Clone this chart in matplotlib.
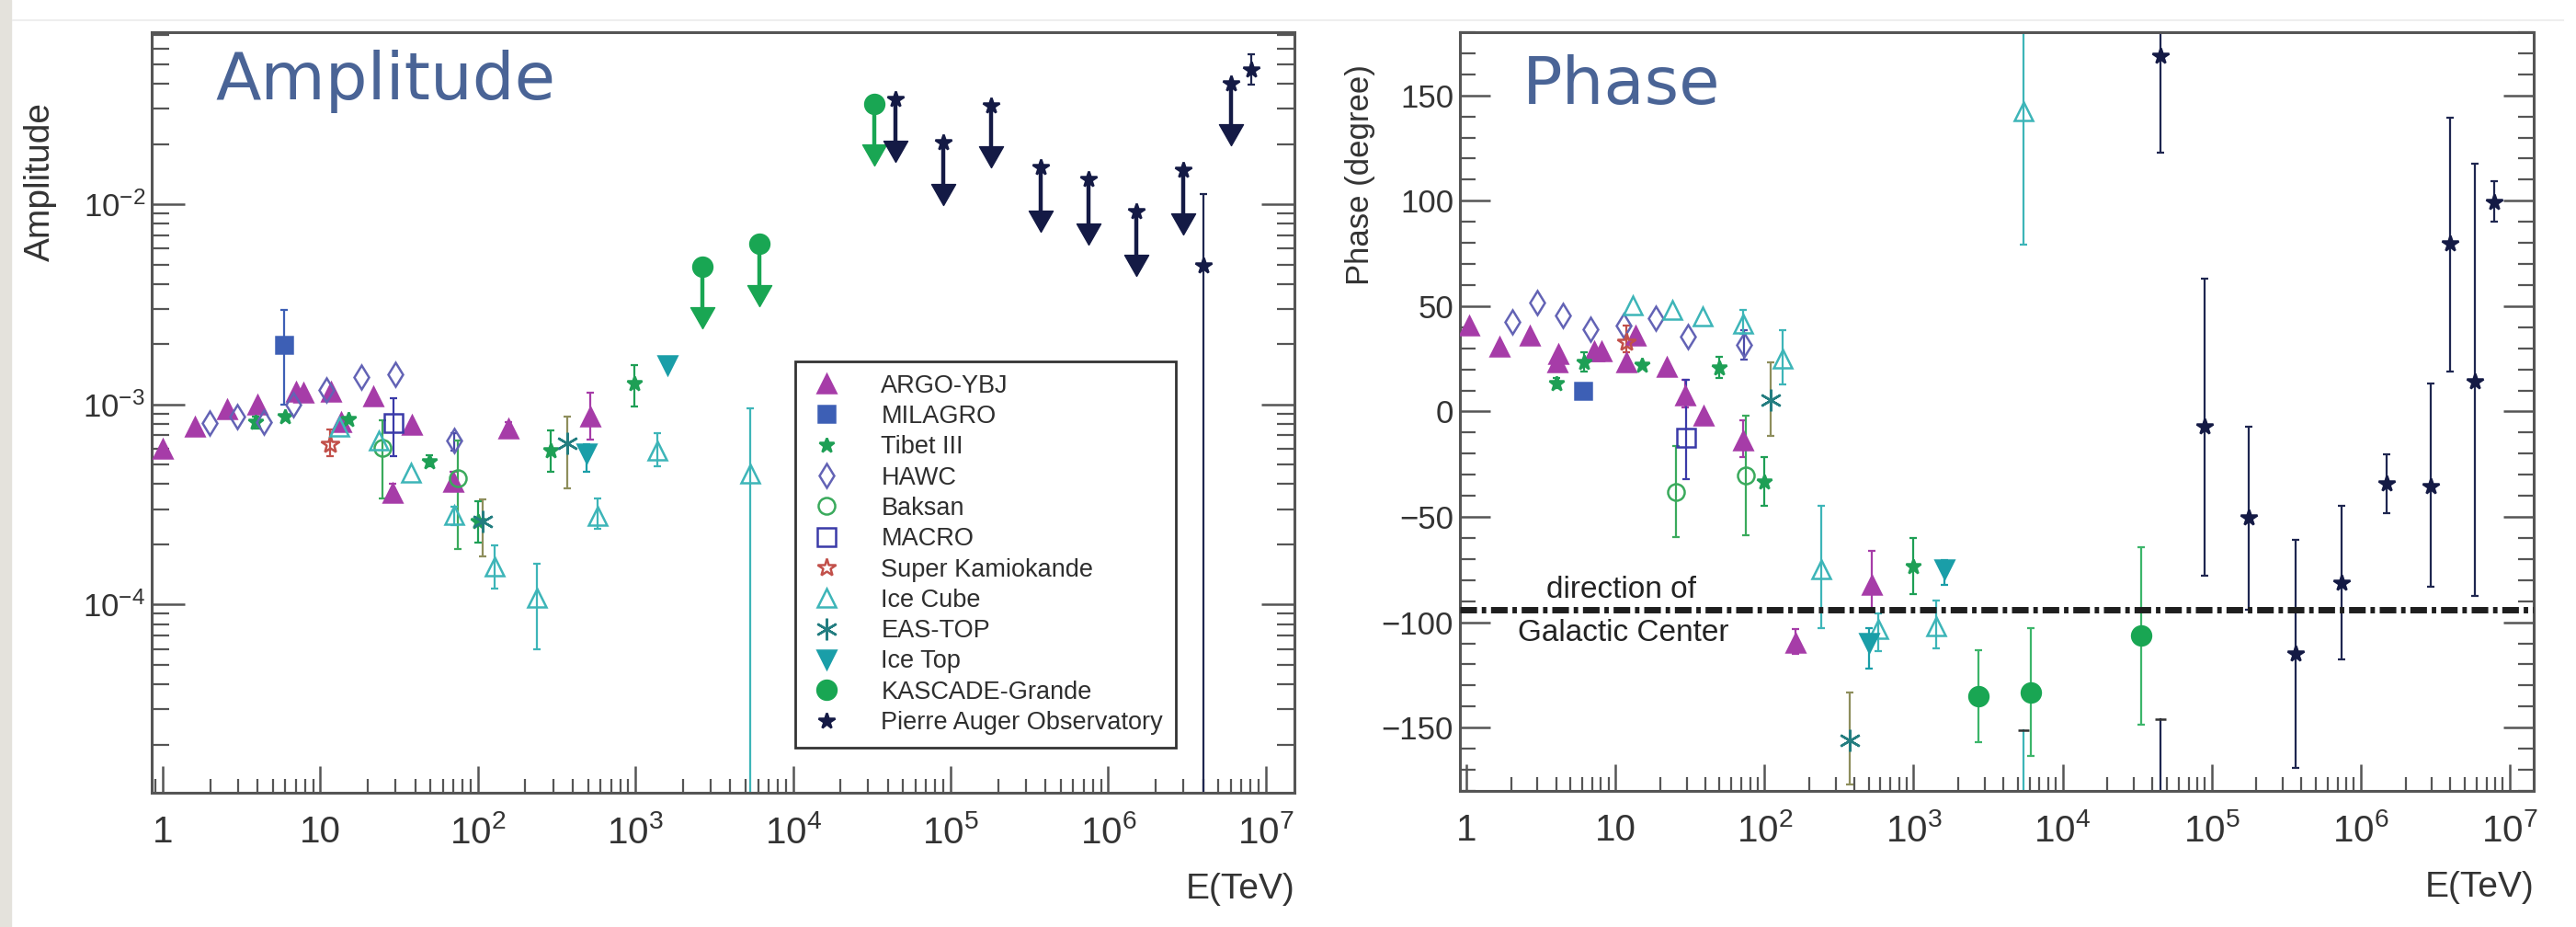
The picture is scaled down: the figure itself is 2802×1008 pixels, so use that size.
import matplotlib
matplotlib.use("Agg")
import matplotlib.pyplot as plt
from matplotlib.lines import Line2D
from matplotlib.path import Path
from matplotlib.patches import Rectangle
from matplotlib.ticker import LogLocator, MultipleLocator, NullFormatter

plt.rcParams["font.family"] = ["Liberation Sans", "DejaVu Sans"]
ETROIT = ["Liberation Sans Narrow", "Liberation Sans", "DejaVu Sans"]

# ---------------------------------------------------------------- axes
E_TICKS = [1, 10, 1e2, 1e3, 1e4, 1e5, 1e6, 1e7]
E_LABELS = ["1", "10"] + [r"$\mathdefault{10^{%d}}$" % k for k in range(2, 8)]
AMP_TICKS = [1e-4, 1e-3, 1e-2]
AMP_LABELS = [r"$\mathdefault{10^{-4}}$", r"$\mathdefault{10^{-3}}$", r"$\mathdefault{10^{-2}}$"]
PHASE_TICKS = [-150, -100, -50, 0, 50, 100, 150]
PHASE_LABELS = ["\u2212150", "\u2212100", "\u221250", "0", "50", "100", "150"]
GALACTIC_CENTER = -94

# ---------------------------------------------------------------- amplitude (E, A, bas, haut)
ARGO_AMP = [(1.0, 6.0e-4, None, None), (1.6, 7.7e-4, None, None), (2.55, 9.5e-4, None, None),
            (4.0, 1.0e-3, None, None), (7.0, 1.16e-3, None, None), (7.8, 1.14e-3, None, None),
            (11.7, 1.16e-3, None, None), (13.5, 8.2e-4, None, None), (21.6, 1.10e-3, None, None),
            (28.7, 3.6e-4, 3.3e-4, 4.0e-4), (38, 7.9e-4, None, None), (70, 4.1e-4, 3.7e-4, 4.6e-4),
            (157, 7.6e-4, 7.2e-4, 8.2e-4), (514, 8.7e-4, 6.7e-4, 1.14e-3)]
MILAGRO_AMP = [(5.9, 1.99e-3, 1.0e-3, 2.96e-3)]
TIBET_AMP = [(3.9, 8.15e-4, 7.6e-4, 8.7e-4), (6.0, 8.7e-4, None, None), (15, 8.4e-4, None, None),
             (49, 5.2e-4, 4.9e-4, 5.6e-4), (100, 2.6e-4, 2.05e-4, 3.3e-4),
             (291, 5.9e-4, 4.6e-4, 7.4e-4), (984, 1.27e-3, 9.8e-4, 1.58e-3)]
HAWC_AMP = [(1.98, 8.1e-4, None, None), (2.96, 8.7e-4, None, None), (4.36, 8.15e-4, None, None),
            (6.7, 1.0e-3, None, None), (10.9, 1.18e-3, None, None), (18.3, 1.37e-3, None, None),
            (30.1, 1.42e-3, None, None), (71, 6.6e-4, 5.9e-4, 7.2e-4)]
BAKSAN_AMP = [(24.7, 6.1e-4, 3.4e-4, 8.3e-4), (75, 4.3e-4, 1.9e-4, 6.6e-4)]
MACRO_AMP = [(29.3, 8.1e-4, 5.5e-4, 1.07e-3)]
SK_AMP = [(11.6, 6.3e-4, 5.5e-4, 7.5e-4)]
ICECUBE_AMP = [(13.1, 7.7e-4, None, None), (23.4, 6.6e-4, None, None), (37.4, 4.55e-4, None, None),
               (71, 2.8e-4, 2.5e-4, 3.1e-4), (128, 1.55e-4, 1.2e-4, 1.97e-4),
               (236, 1.08e-4, 6.0e-5, 1.6e-4), (575, 2.77e-4, 2.4e-4, 3.4e-4),
               (1376, 5.9e-4, 4.9e-4, 7.2e-4), (5346, 4.5e-4, 1e-6, 9.6e-4)]
EASTOP_AMP = [(107, 2.6e-4, 1.75e-4, 3.34e-4), (367, 6.4e-4, 3.8e-4, 8.7e-4)]
ICETOP_AMP = [(491, 5.7e-4, 4.6e-4, 6.3e-4), (1596, 1.58e-3, None, None)]
KASCADE_AMP = []
AUGER_AMP = [(4.0e6, 4.95e-3, 1e-6, 1.12e-2), (8.1e6, 4.7e-2, 3.94e-2, 5.6e-2)]
# limites superieures (E, valeur, pointe de la fleche)
KASCADE_LIM = [(2660, 4.9e-3, 2.4e-3), (6095, 6.35e-3, 3.1e-3), (32900, 3.17e-2, 1.56e-2)]
AUGER_LIM = [(44800, 3.34e-2, 1.62e-2), (90200, 2.04e-2, 9.9e-3), (1.81e5, 3.11e-2, 1.53e-2),
             (3.72e5, 1.53e-2, 7.3e-3), (7.5e5, 1.33e-2, 6.3e-3), (1.5e6, 9.2e-3, 4.4e-3),
             (3.0e6, 1.48e-2, 7.05e-3), (6.0e6, 3.98e-2, 1.96e-2)]

# ---------------------------------------------------------------- phase (E, phase, bas, haut)
ARGO_PHASE = [(1.04, 41.0, None, None), (1.67, 30.8, None, None), (2.68, 35.9, None, None),
              (4.16, 27.1, None, None), (4.1, 23.5, None, None), (7.2, 28.6, None, None),
              (8.1, 28.6, None, None), (11.9, 23.5, None, None), (13.6, 35.9, None, None),
              (22, 21.3, None, None), (29.5, 7.5, 1.8, 15), (39.2, -2.0, None, None),
              (72, -13.7, -21.7, -4.2), (162, -109.9, -115, -103), (523, -82.2, -95, -66.1)]
MILAGRO_PHASE = [(6.07, 10.0, 7, 13)]
TIBET_PHASE = [(4.04, 13.3, 11, 16), (6.2, 23.5, 19, 28), (15, 22.0, None, None),
               (49.7, 20.6, 16, 26), (99, -33.3, -44.7, -21.7), (1000, -73.4, -86.6, -59.9)]
HAWC_PHASE = [(2.04, 42.7, None, None), (3.0, 51.9, None, None), (4.46, 45.4, None, None),
              (6.8, 39.1, None, None), (11.4, 41.0, None, None), (18.7, 44.2, None, None),
              (30.7, 35.4, None, None), (73, 31.5, 24.6, 38.8)]
BAKSAN_PHASE = [(25.4, -38.0, -59.6, -16.2), (75.4, -30.2, -58.9, -2.0)]
MACRO_PHASE = [(29.9, -12.5, -31.9, 15)]
SK_PHASE = [(11.8, 33.0, 28, 41)]
ICECUBE_PHASE = [(13.1, 50.4, None, None), (24.2, 48.0, None, None), (38.5, 45.0, None, None),
                 (72, 41.7, 37, 48), (133, 25.0, 13, 38.5), (240, -74.9, -102.6, -44.7),
                 (583, -103.3, -113.5, -96), (1416, -101.9, -112.4, -89.7),
                 (5446, 142.3, 79.3, 209)]
EASTOP_PHASE = [(110, 5.3, -11.5, 23.5), (374, -155.8, -176.9, -133.5)]
ICETOP_PHASE = [(500, -109.9, -122, -102.6), (1610, -74.9, -82.2, -70.5)]
KASCADE_PHASE = [(2723, -135.1, -157, -113.1), (6125, -133.2, -163.5, -102.6),
                 (33550, -106.4, -148.6, -64.5)]
AUGER_PHASE = [(45600, 168.5, 123, 214), (89500, -7.1, -78.0, 63.1), (1.78e5, -50.5, -93.9, -7.1),
               (3.65e5, -115.2, -169, -60.8), (7.5e5, -81.4, -117.5, -44.6),
               (1.49e6, -34.3, -48.3, -20.3), (2.96e6, -35.4, -83.3, 13.3),
               (3.97e6, 79.6, 18.8, 139.4), (5.87e6, 14.3, -87.5, 117.5), (7.9e6, 99.3, 90.2, 109.2)]

# ---------------------------------------------------------------- styles
LEGENDE = ["ARGO-YBJ", "MILAGRO", "Tibet III", "HAWC", "Baksan", "MACRO", "Super Kamiokande",
           "Ice Cube", "EAS-TOP", "Ice Top", "KASCADE-Grande", "Pierre Auger Observatory"]
COULEURS = ["#a63ca8", "#3d5fb5", "#1e9f55", "#6363b5", "#3aaa5c", "#3a3aa8", "#c2504a",
            "#3db5b8", "#237d80", "#1a9ea8", "#19a653", "#141a45"]
COULEURS_ERREUR = ["#a63ca8", "#3d5fb5", "#1e9f55", "#4a4aa8", "#3aaa5c", "#3a3aa8", "#c2504a",
                   "#3db5b8", "#8e8e5c", "#1a9ea8", "#3cb56a", "#1e2650"]
MARQUEURS = ["^", "s", "*", "d", "o", "s", "*", "^", (6, 2, 0), "v", "o", "*"]
TAILLES = [15, 13, 12, 13, 13, 14, 15, 15, 17, 14, 15, 13]
PLEINS = [True, True, True, False, False, False, False, False, True, True, True, True]

SERIES_AMP = [ARGO_AMP, MILAGRO_AMP, TIBET_AMP, HAWC_AMP, BAKSAN_AMP, MACRO_AMP, SK_AMP,
              ICECUBE_AMP, EASTOP_AMP, ICETOP_AMP, KASCADE_AMP, AUGER_AMP]
SERIES_PHASE = [ARGO_PHASE, MILAGRO_PHASE, TIBET_PHASE, HAWC_PHASE, BAKSAN_PHASE, MACRO_PHASE,
                SK_PHASE, ICECUBE_PHASE, EASTOP_PHASE, ICETOP_PHASE, KASCADE_PHASE, AUGER_PHASE]

GRIS = "#555555"
TEXTE = "#333333"
BLEU_TITRE = "#4a6496"

# pointe de fleche : sommet a l'origine, base au-dessus
POINTE = Path([(0, 0), (-0.57, 1), (0.57, 1), (0, 0)],
              [Path.MOVETO, Path.LINETO, Path.LINETO, Path.CLOSEPOLY])


def style_marqueur(i):
    couleur = COULEURS[i]
    return dict(ls="none", marker=MARQUEURS[i], ms=TAILLES[i],
                mfc=couleur if PLEINS[i] else "none", mec=couleur, mew=1.8)


def tracer_serie(ax, points, i, replier=False):
    """Trace les barres d'erreur puis les marqueurs d'une experience."""
    if not points:
        return
    for e, v, bas, haut in points:
        if bas is None:
            continue
        ax.errorbar([e], [v], yerr=[[v - bas], [haut - v]], fmt="none",
                    ecolor=COULEURS_ERREUR[i], elinewidth=1.6, capsize=2.8,
                    capthick=1.6, zorder=2)
        # la phase est periodique : le haut de la barre revient par -180
        if replier and haut > 180:
            reste = haut - 360
            ax.plot([e, e], [-180, reste], color=COULEURS_ERREUR[i], lw=1.6, zorder=2)
            ax.plot([e], [reste], marker="_", ms=9, mew=1.8, color="#333333", zorder=2)
    xs = [p[0] for p in points]
    ys = [p[1] for p in points]
    ax.plot(xs, ys, zorder=4, **style_marqueur(i))


def tracer_limites(ax, limites, i):
    """Limites superieures : marqueur + fleche vers le bas."""
    couleur = COULEURS[i]
    for e, v, pointe in limites:
        ax.plot([e, e], [v, pointe * 1.15], color=couleur, lw=3.2,
                solid_capstyle="butt", zorder=3)
        ax.plot([e], [pointe], ls="none", marker=POINTE, ms=33, color=couleur, zorder=3)
        ax.plot([e], [v], zorder=4, **style_marqueur(i))


def habiller_axe(ax, long_y, court_y):
    for cote in ax.spines.values():
        cote.set_linewidth(2.2)
        cote.set_color(GRIS)
    ax.set_xscale("log")
    ax.xaxis.set_minor_locator(LogLocator(base=10, subs=range(2, 10), numticks=20))
    ax.xaxis.set_minor_formatter(NullFormatter())
    ax.set_xticks(E_TICKS, E_LABELS, fontfamily=ETROIT, fontsize=29, color=TEXTE)
    ax.tick_params(axis="x", which="major", direction="in", length=21, width=1.8,
                   color=GRIS, top=False, pad=17)
    ax.tick_params(axis="x", which="minor", direction="in", length=11, width=1.6,
                   color=GRIS, top=False)
    ax.tick_params(axis="y", which="major", direction="in", length=long_y, width=1.8,
                   color=GRIS, left=True, right=True, labelsize=25, labelcolor=TEXTE, pad=5)
    ax.tick_params(axis="y", which="minor", direction="in", length=court_y, width=1.6,
                   color=GRIS, left=True, right=True)
    ax.set_xlabel("E(TeV)", loc="right", fontsize=28, color=TEXTE)
    ax.xaxis.set_label_coords(1.0, -0.105)


fig = plt.figure(figsize=(28.02, 10.08), dpi=100)
fig.patches.append(Rectangle((0, 0), 12 / 2802, 1, transform=fig.transFigure,
                             color="#e4e2dc", zorder=0))
fig.add_artist(Line2D([0.005, 0.995], [1 - 22 / 1008] * 2, color="#eeeeee", lw=1.5))

# ---------------------------------------------------------------- amplitude
ax1 = fig.add_axes([0.05889, 0.14484, 0.44361, 0.82044])
habiller_axe(ax1, 26, 14)
ax1.set_yscale("log")
ax1.set_xlim(0.851, 1.52e7)
ax1.set_ylim(1.15e-5, 0.0723)
ax1.set_yticks(AMP_TICKS, AMP_LABELS)
ax1.yaxis.set_minor_locator(LogLocator(base=10, subs=range(2, 10), numticks=20))
ax1.yaxis.set_minor_formatter(NullFormatter())

for i, points in enumerate(SERIES_AMP):
    tracer_serie(ax1, points, i)
tracer_limites(ax1, KASCADE_LIM, LEGENDE.index("KASCADE-Grande"))
tracer_limites(ax1, AUGER_LIM, LEGENDE.index("Pierre Auger Observatory"))

ax1.set_ylabel("Amplitude", fontsize=28, color=TEXTE)
ax1.yaxis.set_label_coords(-0.083, 0.804)
ax1.text(0.0555, 0.912, "Amplitude", transform=ax1.transAxes, fontsize=52,
         color=BLEU_TITRE, family="DejaVu Sans", va="baseline")

poignees = [Line2D([], [], **style_marqueur(i)) for i in range(len(LEGENDE))]
leg = ax1.legend(poignees, LEGENDE, loc="upper left", bbox_to_anchor=(0.563, 0.567),
                 borderaxespad=0, fontsize=19.5, fancybox=False, framealpha=1,
                 borderpad=0.5, handlelength=1.5, handletextpad=1.45, labelspacing=0.27)
leg.get_frame().set_linewidth(2.0)
leg.get_frame().set_edgecolor("#333333")
for t in leg.get_texts():
    t.set_color("#2e2e2e")

# ---------------------------------------------------------------- phase
ax2 = fig.add_axes([0.56674, 0.14683, 0.41685, 0.81845])
habiller_axe(ax2, 24, 12)
ax2.set_xlim(0.905, 1.45e7)
ax2.set_ylim(-180, 180)
ax2.set_yticks(PHASE_TICKS, PHASE_LABELS)
ax2.yaxis.set_minor_locator(MultipleLocator(10))

ax2.axhline(GALACTIC_CENTER, color="#1e1e1e", lw=5, ls=(0, (2.6, 0.75, 0.7, 0.75)), zorder=3)
ax2.text(11, -84.5, "direction of", ha="center", va="center", fontsize=24, color="#222222")
ax2.text(11.3, -105, "Galactic Center", ha="center", va="center", fontsize=24, color="#222222")

for i, points in enumerate(SERIES_PHASE):
    tracer_serie(ax2, points, i, replier=True)

ax2.set_ylabel("Phase (degree)", fontsize=25, color=TEXTE)
ax2.yaxis.set_label_coords(-0.079, 0.812)
ax2.text(0.058, 0.905, "Phase", transform=ax2.transAxes, fontsize=52,
         color=BLEU_TITRE, family="DejaVu Sans", va="baseline")

fig.savefig("out.png", dpi=100)
